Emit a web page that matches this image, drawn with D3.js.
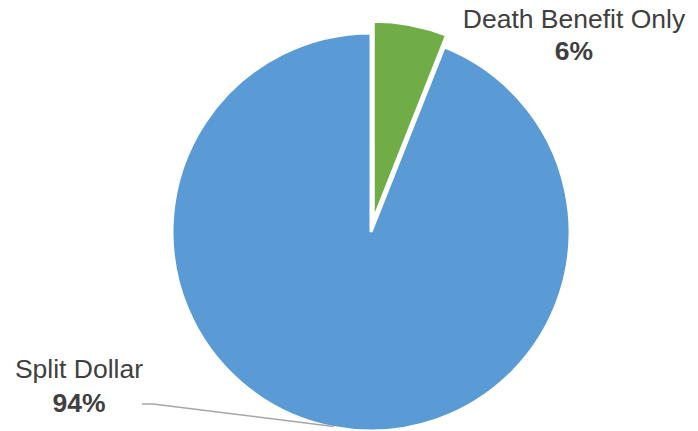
<!DOCTYPE html>
<html>
<head>
<meta charset="utf-8">
<script src="https://cdn.jsdelivr.net/npm/d3@7/dist/d3.min.js"></script>
<style>
  html, body { margin: 0; padding: 0; background: #fff; }
  svg { display: block; }
  text { font-family: "Liberation Sans", Arial, sans-serif; fill: #404040; }
</style>
</head>
<body>
<svg id="chart" width="698" height="431"></svg>
<script>
// Share of plans by type (percent)
const categories = ["Death Benefit Only", "Split Dollar"];
const values = [6, 94];
const labels = ["6%", "94%"];
const colors = ["#70AD47", "#5B9BD5"];

const width = 698, height = 431;
const cx = 371, cy = 232, radius = 199;
const explode = [12, 0];

const svg = d3.select("#chart");

const pie = d3.pie().sort(null).value(d => d.value);
const arcs = pie(categories.map((c, i) => ({ name: c, value: values[i], i })));
const arc = d3.arc().innerRadius(0).outerRadius(radius);

const g = svg.append("g").attr("transform", `translate(${cx},${cy})`);

g.selectAll("path.slice")
  .data(arcs)
  .join("path")
  .attr("class", "slice")
  .attr("d", arc)
  .attr("fill", d => colors[d.data.i])
  .attr("stroke", "#fff")
  .attr("stroke-width", 3)
  .attr("stroke-linejoin", "miter")
  .attr("transform", d => {
    const mid = (d.startAngle + d.endAngle) / 2;
    const off = explode[d.data.i];
    return `translate(${off * Math.sin(mid)},${-off * Math.cos(mid)})`;
  });

// Leader line from the label to the middle of the large slice's rim
const blue = arcs[1];
const leaderAngle = (blue.startAngle + blue.endAngle) / 2;
const edge = [cx + radius * Math.sin(leaderAngle), cy - radius * Math.cos(leaderAngle) - 1];
svg.append("polyline")
  .attr("points", [[142, 404], [153, 404], edge].map(p => p.join(",")).join(" "))
  .attr("fill", "none")
  .attr("stroke", "#A6A6A6")
  .attr("stroke-width", 1.5);

// Category labels
const labelPos = [
  { x: 574, y1: 28, y2: 60 },
  { x: 79, y1: 378, y2: 412 }
];
categories.forEach((c, i) => {
  const p = labelPos[i];
  svg.append("text")
    .attr("x", p.x).attr("y", p.y1)
    .attr("text-anchor", "middle")
    .attr("font-size", 26.5)
    .text(c);
  svg.append("text")
    .attr("x", p.x).attr("y", p.y2)
    .attr("text-anchor", "middle")
    .attr("font-size", 26.5)
    .attr("font-weight", "bold")
    .text(labels[i]);
});
</script>
</body>
</html>
